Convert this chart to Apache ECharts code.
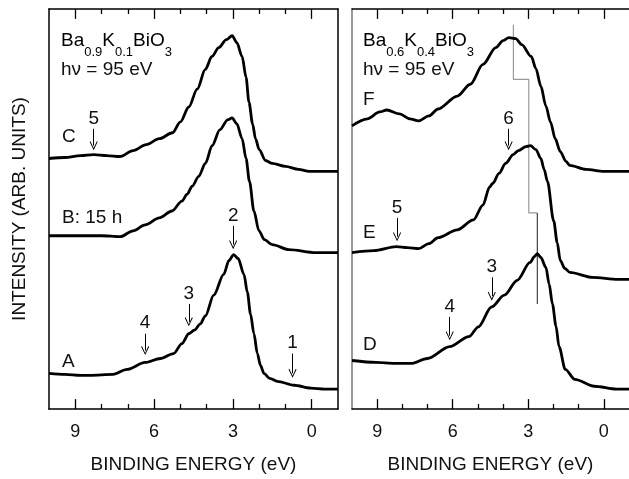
<!DOCTYPE html>
<html>
<head>
<meta charset="utf-8">
<script src="https://cdn.jsdelivr.net/npm/echarts@6/dist/echarts.min.js"></script>
<style>
  html, body { margin: 0; padding: 0; background: #fff; }
  #chart { width: 629px; height: 479px; }
</style>
</head>
<body>
<div id="chart"></div>
<script>
// binding energy (eV), intensity (arb. units, offset included)
const curveA = [[10,36],[9.4,35],[8.8,34],[8.44,34],[7.56,35],[7.03,40],[6.34,47],[5.76,51],[5.26,56],[4.94,66],[4.68,76],[4.45,80],[4.24,86],[4.05,94],[3.73,115],[3.35,136],[3.15,150],[2.97,156],[2.8,152],[2.58,136],[2.45,118],[2.33,96],[2.2,76],[2.07,56],[1.95,44],[1.82,36],[1.6,31],[1.31,28],[0.67,24],[0.04,21],[-0.5,20],[-1,20]];
const curveB = [[10,175],[9.2,175],[8.75,175],[8,175],[7.29,174],[6.8,180],[6.34,186],[5.8,193],[5.32,200],[4.94,210],[4.74,217],[4.55,225],[4.3,235],[4.05,248],[3.79,266],[3.5,282],[3.2,292],[3.03,294],[2.85,288],[2.65,273],[2.5,253],[2.37,230],[2.2,200],[2.01,180],[1.8,171],[1.5,166],[0.87,161],[-0.15,158],[-1,158]];
const curveC = [[10,253],[9.4,254],[8.8,256],[8.3,257],[7.8,256],[7.3,255],[6.8,261],[6.3,267],[5.8,273],[5.3,279],[5.0,290],[4.68,305],[4.36,323],[4.05,343],[3.8,356],[3.54,365],[3.25,373],[3.03,377],[2.85,370],[2.65,356],[2.5,335],[2.39,310],[2.25,288],[2.14,273],[2.0,262],[1.76,251],[1.5,248],[1.0,245],[0.5,242],[0.1,240],[-0.5,240],[-1,240]];
const curveD = [[10,49],[9.05,47],[8.3,46],[7.65,46],[7.01,51],[6.12,63],[5.36,73],[4.98,83],[4.46,103],[3.95,115],[3.44,130],[2.93,148],[2.75,154],[2.64,157],[2.5,153],[2.3,143],[2.17,126],[2.04,106],[1.9,84],[1.78,63],[1.53,40],[1.15,30],[0.38,23],[-0.51,20],[-1,20]];
const curveE = [[10,158],[9.13,160],[8.24,164],[7.8,163],[7.35,162],[6.95,167],[6.58,173],[5.82,181],[5.18,191],[4.8,206],[4.54,224],[4.41,228],[4.16,238],[3.9,248],[3.6,257],[3.39,261],[3.1,265],[2.91,266],[2.7,262],[2.5,253],[2.37,242],[2.24,230],[1.99,190],[1.85,168],[1.73,150],[1.55,142],[1.35,138],[0.46,133],[-0.57,131],[-1,131]];
const curveF = [[10,286],[9.39,293],[8.9,300],[8.62,302],[8.11,298],[7.7,293],[7.35,291],[6.95,296],[6.58,303],[5.82,316],[5.3,328],[4.8,348],[4.29,365],[4.0,372],[3.77,375],[3.5,374],[3.26,368],[2.88,356],[2.7,344],[2.5,326],[2.3,306],[2.12,290],[1.93,273],[1.73,260],[1.5,250],[1.35,246],[0.71,242],[0,240],[-1,240]];

// peak-position step line (right panel)
const stepUpper = [[3.59,388],[3.59,333],[2.98,333],[2.98,198],[2.64,198]];
const stepLower = [[2.64,198],[2.64,106]];

// arrows: [energy, from, to, label]
const arrowsLeft = [[8.3,283,266,'5'],[2.99,185,166,'2'],[4.68,106,88,'3'],[6.34,76,59,'4'],[0.73,56,36,'1']];
const arrowsRight = [[3.78,283,266,'6'],[8.21,193,174,'5'],[4.45,133,114,'3'],[6.12,93,74,'4']];

const eMin = -1, eMax = 10;
const yMax = 404;
const majorTicks = [0, 3, 6, 9];
const energySteps = [];
for (let e = eMin; e <= eMax; e++) energySteps.push(String(e));

const FONT = '"Liberation Sans", Arial, Helvetica, sans-serif';
const chevron = 'path://M5,0L10,9L9,9.6L5,2.2L1,9.6L0,9Z';
const isMajor = (i, v) => majorTicks.indexOf(Number(v)) >= 0;

// tick marks (inside, top and bottom), drawn in axis coordinates
function tickLines() {
  const out = [];
  for (let e = eMin + 1; e < eMax; e++) {
    const len = majorTicks.indexOf(e) >= 0 ? 10 : 5;
    out.push([{ coord: [e, 0] }, { coord: [e, len] }]);
    out.push([{ coord: [e, yMax] }, { coord: [e, yMax - len] }]);
  }
  return out;
}

function xAxes(grid) {
  const line = { show: true, onZero: false, lineStyle: { color: '#000', width: 1.5 } };
  const border = pos => ({
    gridIndex: grid, type: 'value', min: eMin, max: eMax, interval: 1, inverse: true,
    position: pos, axisLine: line, splitLine: { show: false },
    axisTick: { show: false }, axisLabel: { show: false }
  });
  const labels = {
    gridIndex: grid, type: 'category', data: energySteps, boundaryGap: false, inverse: true,
    position: 'bottom', axisLine: { show: false, onZero: false }, splitLine: { show: false },
    axisTick: { show: false },
    axisLabel: { show: true, interval: isMajor, margin: 14, fontSize: 18, color: '#111', fontFamily: FONT },
    name: 'BINDING ENERGY (eV)', nameLocation: 'middle', nameGap: 46,
    nameTextStyle: { fontSize: 19, color: '#111', fontFamily: FONT }
  };
  return [border('bottom'), labels, border('top')];
}

function yAxis(grid, pos, color, name) {
  return {
    gridIndex: grid, type: 'value', min: 0, max: yMax, position: pos,
    axisLine: { show: true, onZero: false, lineStyle: { color: color, width: 1.5 } },
    axisTick: { show: false }, axisLabel: { show: false }, splitLine: { show: false },
    name: name || '', nameLocation: 'middle', nameGap: 20,
    nameTextStyle: { fontSize: 19, color: '#111', fontFamily: FONT }
  };
}

function curve(data, xi, yi, arrows, ticks) {
  const s = {
    type: 'line', data: data, xAxisIndex: xi, yAxisIndex: yi,
    symbol: 'none', smooth: 0.3, smoothMonotone: 'x',
    lineStyle: { color: '#000', width: 2.8 }, z: 3
  };
  if (arrows) {
    s.markLine = {
      silent: true, animation: false,
      symbol: ['none', chevron], symbolSize: [8, 9],
      lineStyle: { color: '#000', width: 1, type: 'solid' },
      label: { show: true, position: 'start', distance: 1, formatter: p => p.name, fontSize: 19, color: '#111', fontFamily: FONT },
      data: arrows.map(a => [{ name: a[3], coord: [a[0], a[1]] }, { coord: [a[0], a[2]] }])
    };
  }
  if (ticks) {
    s.markLine = {
      silent: true, animation: false, symbol: ['none', 'none'],
      lineStyle: { color: '#000', width: 1.3, type: 'solid' },
      label: { show: false },
      data: tickLines()
    };
  }
  return s;
}

function step(data, color) {
  return {
    type: 'line', data: data, xAxisIndex: 3, yAxisIndex: 2, symbol: 'none',
    lineStyle: { color: color, width: 1.2 }, z: 2
  };
}

const sub = {
  m: { fontSize: 19, lineHeight: 22, verticalAlign: 'top', fontFamily: FONT, color: '#111' },
  s: { fontSize: 13, lineHeight: 14, padding: [15, 0, 0, 0], verticalAlign: 'top', fontFamily: FONT, color: '#111' }
};

function label(text, x, y) {
  return { type: 'text', x: x, y: y, z: 10, style: { text: text, fontSize: 19, fontFamily: FONT, fill: '#111', verticalAlign: 'middle' } };
}

const chart = echarts.init(document.getElementById('chart'));
chart.setOption({
  animation: false,
  backgroundColor: '#fff',
  grid: [
    { left: 49, top: 9, width: 289, height: 404 },
    { left: 352, top: 9, width: 287.4, height: 404 }
  ],
  xAxis: xAxes(0).concat(xAxes(1)),
  yAxis: [
    yAxis(0, 'left', '#000', 'INTENSITY (ARB. UNITS)'),
    yAxis(0, 'right', '#000'),
    yAxis(1, 'left', '#777')
  ],
  series: [
    curve(curveA, 0, 0, arrowsLeft),
    curve(curveB, 0, 0, null, true),
    curve(curveC, 0, 0),
    curve(curveD, 3, 2, arrowsRight),
    curve(curveE, 3, 2, null, true),
    curve(curveF, 3, 2),
    step(stepUpper, '#999'),
    step(stepLower, '#444')
  ],
  graphic: [
    { type: 'text', x: 61, y: 31, z: 10, style: { text: '{m|Ba}{s|0.9}{m|K}{s|0.1}{m|BiO}{s|3}', rich: sub } },
    label('hν = 95 eV', 61, 70),
    { type: 'text', x: 363, y: 31, z: 10, style: { text: '{m|Ba}{s|0.6}{m|K}{s|0.4}{m|BiO}{s|3}', rich: sub } },
    label('hν = 95 eV', 363, 70),
    label('C', 62, 137),
    label('B: 15 h', 62, 218),
    label('A', 62, 362),
    label('F', 363, 100),
    label('E', 363, 233),
    label('D', 363, 345)
  ]
});
</script>
</body>
</html>
